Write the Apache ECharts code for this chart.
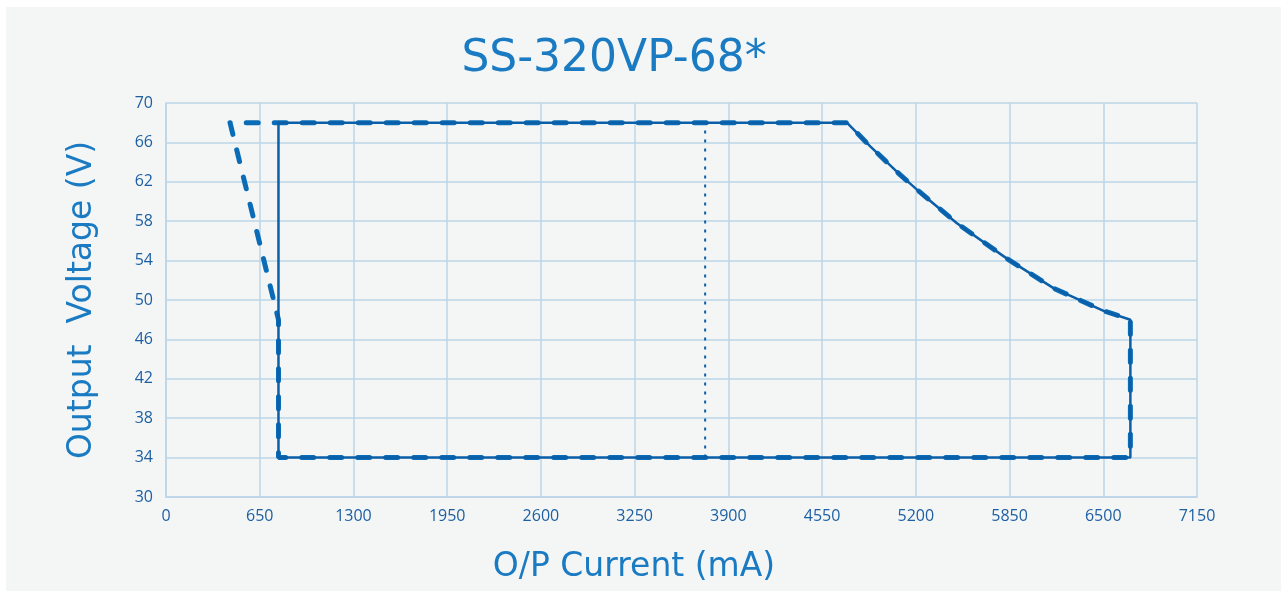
<!DOCTYPE html>
<html>
<head>
<meta charset="utf-8">
<title>SS-320VP-68*</title>
<script src="https://cdn.jsdelivr.net/npm/echarts@6/dist/echarts.min.js"></script>
<style>
  html, body { margin: 0; padding: 0; background: #fff; }
  #chart { width: 1288px; height: 592px; }
</style>
</head>
<body>
<div id="chart"></div>
<script>
// x ticks 0..7150 step 650, y ticks 30..70 step 4
const currentTicks = [0, 650, 1300, 1950, 2600, 3250, 3900, 4550, 5200, 5850, 6500, 7150];
const voltageTicks = [30, 34, 38, 42, 46, 50, 54, 58, 62, 66, 70];

// solid outline (closed loop)
const solidCurrent = [780, 780, 4722, 4884, 5092, 5208, 5485, 5832, 6155, 6502, 6688, 6688, 780];
const solidVoltage = [34, 68, 68, 65.6, 62.7, 61.2, 57.8, 54.2, 51.2, 48.9, 48, 34, 34];

// dashed outline
const dashedCurrent = [444, 780, 780, 6688, 6688, 6502, 6155, 5832, 5485, 5208, 5092, 4884, 4722, 444];
const dashedVoltage = [68, 48, 34, 34, 48, 48.9, 51.2, 54.2, 57.8, 61.2, 62.7, 65.6, 68, 68];

// dotted marker line
const dottedCurrent = [3739, 3739];
const dottedVoltage = [34, 68];

const toPairs = (xs, ys) => xs.map((x, i) => [x, ys[i]]);

const gridColor = "#bcd4e7";
const labelColor = "#1d5fa3";
const nameColor = "#1a7bc2";
const tickFont = "'Open Sans', 'Noto Sans', sans-serif";
const bigFont = "'DejaVu Sans', sans-serif";

const chart = echarts.init(document.getElementById("chart"));

chart.setOption({
  backgroundColor: "#ffffff",
  animation: false,
  title: {
    text: "SS-320VP-68*",
    left: 609,
    top: 33,
    textAlign: "center",
    textStyle: {
      color: "#1a7bc2",
      fontSize: 44,
      fontWeight: "normal",
      fontFamily: bigFont
    }
  },
  graphic: [
    {
      type: "rect",
      z: -10,
      silent: true,
      shape: { x: 6, y: 7, width: 1275, height: 584 },
      style: { fill: "#f4f6f6" }
    }
  ],
  grid: {
    left: 166,
    right: 91,
    top: 103,
    bottom: 95,
    containLabel: false
  },
  xAxis: {
    type: "value",
    min: currentTicks[0],
    max: currentTicks[currentTicks.length - 1],
    interval: 650,
    name: "O/P Current (mA)",
    nameLocation: "middle",
    nameGap: 54,
    nameTextStyle: {
      color: nameColor,
      fontSize: 33,
      fontFamily: bigFont,
      padding: [0, 95, 0, 0]
    },
    axisLine: { show: true, lineStyle: { color: gridColor, width: 1.5 } },
    axisTick: { show: false },
    axisLabel: {
      color: labelColor,
      fontSize: 16,
      fontFamily: tickFont,
      margin: 11,
      formatter: value => String(value)
    },
    splitLine: { show: true, lineStyle: { color: gridColor, width: 1.5 } }
  },
  yAxis: {
    type: "value",
    min: voltageTicks[0],
    max: voltageTicks[voltageTicks.length - 1],
    interval: 4,
    name: "Output  Voltage (V)",
    nameLocation: "middle",
    nameGap: 67,
    nameTextStyle: {
      color: nameColor,
      fontSize: 33,
      fontFamily: bigFont
    },
    axisLine: { show: true, lineStyle: { color: gridColor, width: 1.5 } },
    axisTick: { show: false },
    axisLabel: {
      color: labelColor,
      fontSize: 16,
      fontFamily: tickFont,
      margin: 13,
      formatter: value => String(value)
    },
    splitLine: { show: true, lineStyle: { color: gridColor, width: 1.5 } }
  },
  series: [
    {
      name: "dashed",
      type: "line",
      data: toPairs(dashedCurrent, dashedVoltage),
      symbol: "none",
      lineStyle: {
        color: "#0a6cb6",
        width: 5,
        type: [12, 16],
        cap: "round"
      },
      z: 2
    },
    {
      name: "solid",
      type: "line",
      data: toPairs(solidCurrent, solidVoltage),
      symbol: "none",
      lineStyle: { color: "#0b5ea8", width: 2.5 },
      z: 3
    },
    {
      name: "dotted",
      type: "line",
      data: toPairs(dottedCurrent, dottedVoltage),
      symbol: "none",
      lineStyle: { color: "#0b5ea8", width: 2, type: [3, 6] },
      z: 3
    }
  ]
});
</script>
</body>
</html>
